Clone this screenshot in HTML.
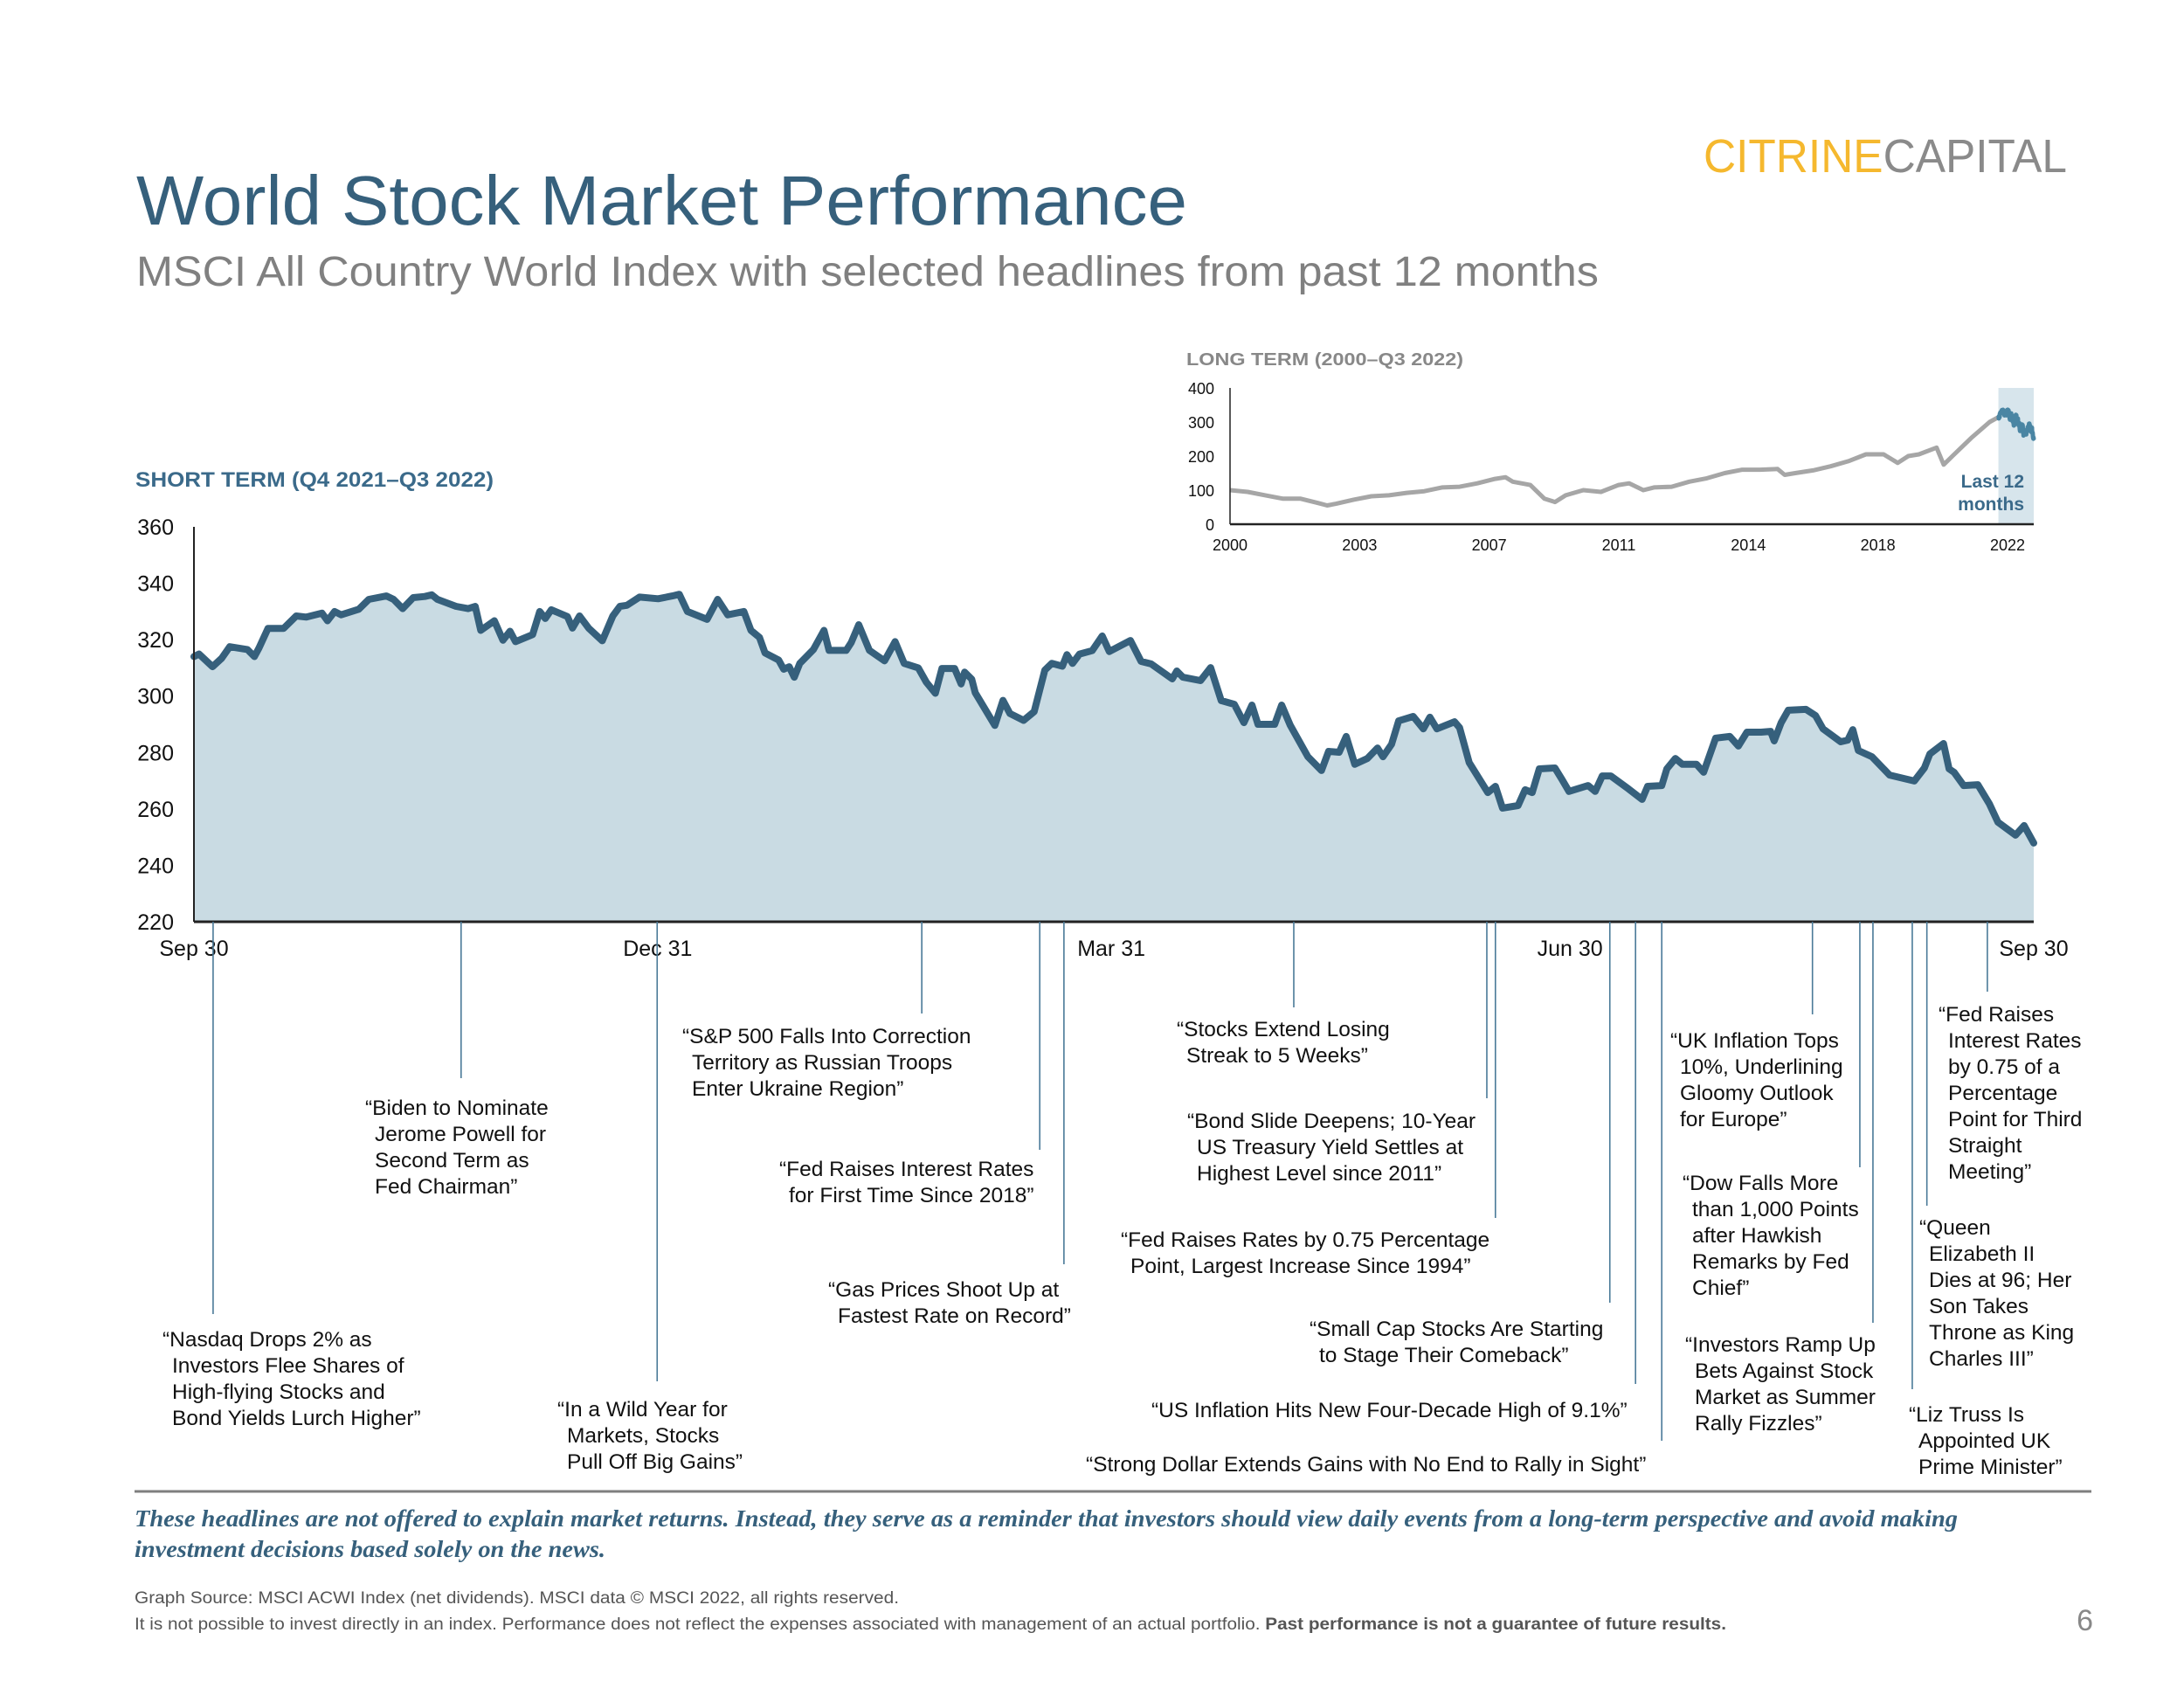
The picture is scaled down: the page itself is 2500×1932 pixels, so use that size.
<!DOCTYPE html>
<html><head><meta charset="utf-8"><style>
html,body{margin:0;padding:0;background:#fff;}
svg{display:block;font-family:"Liberation Sans",sans-serif;}
</style></head><body>
<svg id="page" width="2500" height="1932" viewBox="0 0 2500 1932" xmlns="http://www.w3.org/2000/svg">
<text x="1950" y="197" font-size="54" textLength="416" lengthAdjust="spacingAndGlyphs"><tspan fill="#f5b82e">CITRINE</tspan><tspan fill="#8a8a8a">CAPITAL</tspan></text>
<text x="156" y="257" font-size="80" fill="#36607c" textLength="1203" lengthAdjust="spacingAndGlyphs">World Stock Market Performance</text>
<text x="156" y="327" font-size="48" fill="#808080" textLength="1674" lengthAdjust="spacingAndGlyphs">MSCI All Country World Index with selected headlines from past 12 months</text>
<text x="155" y="557" font-size="24" font-weight="bold" fill="#3b6a8a" textLength="410" lengthAdjust="spacingAndGlyphs">SHORT TERM (Q4 2021–Q3 2022)</text>
<text x="1358" y="418" font-size="20" font-weight="bold" fill="#888" textLength="317" lengthAdjust="spacingAndGlyphs">LONG TERM (2000–Q3 2022)</text>
<g id="short"></g>
<g id="inset"></g>
<g id="notes"></g>
<line x1="154" y1="1707" x2="2394" y2="1707" stroke="#7f7f7f" stroke-width="3"/>
<g font-family="'Liberation Serif',serif" font-style="italic" font-weight="bold" fill="#36607c" font-size="27">
<text x="154" y="1747" textLength="2087" lengthAdjust="spacingAndGlyphs">These headlines are not offered to explain market returns. Instead, they serve as a reminder that investors should view daily events from a long-term perspective and avoid making</text>
<text x="154" y="1782" textLength="539" lengthAdjust="spacingAndGlyphs">investment decisions based solely on the news.</text>
</g>
<text x="154" y="1835" font-size="19" fill="#555" textLength="875" lengthAdjust="spacingAndGlyphs">Graph Source: MSCI ACWI Index (net dividends). MSCI data © MSCI 2022, all rights reserved.</text>
<text x="154" y="1865" font-size="19" fill="#555" textLength="1822" lengthAdjust="spacingAndGlyphs">It is not possible to invest directly in an index. Performance does not reflect the expenses associated with management of an actual portfolio. <tspan font-weight="bold">Past performance is not a guarantee of future results.</tspan></text>
<text x="2396" y="1866" font-size="34" fill="#888" text-anchor="end">6</text>
</svg>
<script>
const days=[0,1,3.7,5.5,7.1,10.6,12,12.9,14.7,17.8,20.3,22.3,25.4,26.5,27.9,29.2,32.7,34.7,38.2,39.6,41.4,43.5,45.8,47.2,48.3,52,54.4,55.8,56.9,59.6,61.3,62.7,63.8,67.2,68.6,69.7,70.9,74.1,75.1,76.5,78.3,81,83.1,84.5,85.9,88.4,92.1,94.9,96.3,97.9,101.8,103.9,105.9,109.1,110.5,112.2,113.3,116,117,118.1,119.1,120.2,122.9,125,126,129.4,130.4,131.9,134,137,139.1,140.9,143.7,145.3,147.1,148.4,150.9,152.2,152.9,154.3,155,158.9,160.5,161.9,164.6,166.7,168.8,170.2,172.3,173.2,174.3,175.7,178.2,180.2,181.6,185.8,187.9,189.9,194.1,195,196.2,199.7,201.7,203.8,206.4,208.3,209.9,211.1,214.4,215.8,217.5,221,223.7,225.1,227.2,228.6,230.3,232.8,234.8,235.9,237.6,239,241.9,243.9,245.2,246.6,250.1,251.1,253,256.7,258.2,259.6,262.7,264.1,265.5,266.9,270,271.4,272.8,276.6,278,279.4,281.1,284.6,287.3,288.4,291.2,292.2,293.9,295.3,298.1,299.5,301.9,304.7,306.4,308.1,310.9,312.8,313.5,314.9,316.3,319.8,321.7,323.2,326.7,328.1,329.1,330.2,332.9,336.4,341.3,343.3,344.4,347.1,348.2,349.2,351.1,353.9,356.2,357.9,361.4,363.1,365];
const values=[314,314.9,310.4,313.4,317.5,316.5,314,317,324,324,328.4,328,329.4,326.7,330,328.8,330.8,334.3,335.5,334.3,331,334.9,335.3,335.9,334.3,331.8,331,331.8,323.3,326.7,319.8,323,319.3,321.8,330,327.5,330.6,328.2,324.1,328.4,324.1,319.6,328.4,331.8,332.2,335.1,334.5,335.5,336.1,330,327.2,334.3,328.8,330,323.3,320.8,315.3,312.8,309.5,310.4,306.7,311.6,316.5,323.3,316.2,316.2,319,325.3,316.2,312.5,319.3,311.6,310,304.9,301,309.8,309.8,304.3,308.5,306,301.2,289.6,298.5,293.8,291.4,294.5,309.2,311.6,310.6,314.7,311.6,314.9,316.1,321.3,315.8,319.7,312.3,311.4,306.1,308.9,306.7,305.5,310.1,298.4,297.1,290.6,296.8,290,290,296.8,289.7,278.5,273.6,280.4,280.1,285.7,275.8,277.9,281.6,278.5,282.9,291.2,292.8,288.4,292.5,288.4,290.9,288.8,276.4,265.8,268,260.3,261.2,266.8,265.8,274.2,274.5,270.5,266.2,268.3,266.2,271.7,271.7,267.1,263.4,268,268.3,274.2,277.9,275.8,275.8,273,285.1,285.7,282.3,287.2,287.2,287.5,284.1,290.6,295,295.3,293.1,288.4,283.8,284.4,288.1,280.7,278.5,272,269.9,274.5,279.5,283.2,274.2,273,268.3,268.6,261.8,255.3,250.7,254.1,247.9];
const yTicks=[220,240,260,280,300,320,340,360];
const xTickDays=[0,92,182,273,365];
const xTickLabels=["Sep 30","Dec 31","Mar 31","Jun 30","Sep 30"];

const ltYears=[2000,2000.5,2001,2001.5,2002,2002.5,2002.75,2003,2003.5,2004,2004.5,2005,2005.5,2006,2006.5,2007,2007.5,2007.8,2008,2008.5,2008.9,2009.2,2009.5,2010,2010.5,2011,2011.3,2011.7,2012,2012.5,2013,2013.5,2014,2014.5,2015,2015.5,2015.7,2016,2016.5,2017,2017.5,2018,2018.5,2018.9,2019.2,2019.5,2020,2020.2,2020.5,2021,2021.5,2021.75];
const ltValues=[100,95,85,75,75,62,55,60,72,82,85,92,97,108,110,120,133,138,125,115,75,65,85,100,95,115,120,100,108,110,125,135,150,160,160,162,145,150,158,170,185,205,205,180,200,205,225,175,205,255,300,314];
const ltTicks=[0,100,200,300,400];
const ltYearLabels=["2000","2003","2007","2011","2014","2018","2022"];

const NS="http://www.w3.org/2000/svg";
function mk(tag,attrs,parent,txt){const e=document.createElementNS(NS,tag);for(const k in attrs)e.setAttribute(k,attrs[k]);if(txt!==undefined)e.textContent=txt;parent.appendChild(e);return e;}
const L=222,R=2328,T=603,B=1055;
const xs=d=>L+d/365*(R-L);
const ys=v=>B-(v-220)/140*(B-T);
const sg=document.getElementById('short');
let pts=days.map((d,i)=>xs(d).toFixed(1)+','+ys(values[i]).toFixed(1));
let area=mk('path',{d:'M'+xs(days[0])+','+B+' L'+pts.join(' L')+' L'+xs(days[days.length-1])+','+B+' Z',fill:'#c9dbe3'},sg);


let line=mk('polyline',{points:pts.join(' '),fill:'none',stroke:'#36607c','stroke-width':8,'stroke-linejoin':'round','stroke-linecap':'round'},sg);


let ya=mk('line',{x1:L,y1:T,x2:L,y2:B,stroke:'#222','stroke-width':2},sg);


let xa=mk('line',{x1:L,y1:B,x2:R,y2:B,stroke:'#222','stroke-width':3},sg);


yTicks.forEach(v=>{const t=mk('text',{x:199,y:ys(v)+9,'font-size':25,'text-anchor':'end',fill:'#111'},sg,String(v));

});
xTickDays.forEach((d,i)=>{const t=mk('text',{x:xs(d),y:1094,'font-size':25,'text-anchor':'middle',fill:'#111'},sg,xTickLabels[i]);

});

// inset
const IL=1408,IR=2328,IT=444,IB=600;
const ix=y=>IL+(y-2000)/22.75*(IR-IL);
const iy=v=>IB-v/400*(IB-IT);
const ig=document.getElementById('inset');
let band=mk('rect',{x:ix(2021.75),y:IT,width:IR-ix(2021.75),height:IB-IT,fill:'#d7e5ec'},ig);


let gl=mk('polyline',{points:ltYears.map((y,i)=>ix(y).toFixed(1)+','+iy(ltValues[i]).toFixed(1)).join(' '),fill:'none',stroke:'#a6a6a6','stroke-width':5,'stroke-linejoin':'round'},ig);


let bl=mk('polyline',{points:days.map((d,i)=>ix(2021.75+d/365).toFixed(1)+','+iy(values[i]).toFixed(1)).join(' '),fill:'none',stroke:'#4a85a3','stroke-width':5,'stroke-linejoin':'round'},ig);


let iya=mk('line',{x1:IL,y1:IT,x2:IL,y2:IB,stroke:'#222','stroke-width':1.5},ig);


let ixa=mk('line',{x1:IL,y1:IB,x2:IR,y2:IB,stroke:'#222','stroke-width':2.5},ig);


ltTicks.forEach(v=>{const t=mk('text',{x:1390,y:iy(v)+7,'font-size':18,'text-anchor':'end',fill:'#111'},ig,String(v));

});
ltYearLabels.forEach((s,i)=>{const t=mk('text',{x:IL+i*(IR-IL-30)/(ltYearLabels.length-1),y:630,'font-size':18,'text-anchor':'middle',fill:'#111'},ig,s);

});
let l1=mk('text',{x:2317,y:558,'font-size':21,'font-weight':'bold','text-anchor':'end',fill:'#3b6a8a'},ig,'Last 12');


let l2=mk('text',{x:2317,y:584,'font-size':21,'font-weight':'bold','text-anchor':'end',fill:'#3b6a8a'},ig,'months');



// annotations: [day of line, line end y, text x, first line center y, lines]
const notes=[
[3.8,1504,186,1532,["“Nasdaq Drops 2% as","Investors Flee Shares of","High-flying Stocks and","Bond Yields Lurch Higher”"]],
[53,1234,418,1267,["“Biden to Nominate","Jerome Powell for","Second Term as","Fed Chairman”"]],
[91.9,1581,638,1612,["“In a Wild Year for","Markets, Stocks","Pull Off Big Gains”"]],
[144.4,1160,781,1185,["“S&P 500 Falls Into Correction","Territory as Russian Troops","Enter Ukraine Region”"]],
[167.8,1316,892,1337,["“Fed Raises Interest Rates","for First Time Since 2018”"]],
[172.6,1447,948,1475,["“Gas Prices Shoot Up at","Fastest Rate on Record”"]],
[218.2,1153,1347,1177,["“Stocks Extend Losing","Streak to 5 Weeks”"]],
[256.5,1257,1359,1282,["“Bond Slide Deepens; 10-Year","US Treasury Yield Settles at","Highest Level since 2011”"]],
[258.2,1394,1283,1418,["“Fed Raises Rates by 0.75 Percentage","Point, Largest Increase Since 1994”"]],
[280.9,1491,1499,1520,["“Small Cap Stocks Are Starting","to Stage Their Comeback”"]],
[286,1584,1318,1613,["“US Inflation Hits New Four-Decade High of 9.1%”"]],
[291.2,1649,1243,1675,["“Strong Dollar Extends Gains with No End to Rally in Sight”"]],
[321.1,1161,1912,1190,["“UK Inflation Tops","10%, Underlining","Gloomy Outlook","for Europe”"]],
[330.5,1336,1926,1353,["“Dow Falls More","than 1,000 Points","after Hawkish","Remarks by Fed","Chief”"]],
[333.1,1514,1929,1538,["“Investors Ramp Up","Bets Against Stock","Market as Summer","Rally Fizzles”"]],
[340.9,1590,2185,1618,["“Liz Truss Is","Appointed UK","Prime Minister”"]],
[343.8,1380,2197,1404,["“Queen","Elizabeth II","Dies at 96; Her","Son Takes","Throne as King","Charles III”"]],
[355.8,1135,2219,1160,["“Fed Raises","Interest Rates","by 0.75 of a","Percentage","Point for Third","Straight","Meeting”"]]
];
const ng=document.getElementById('notes');
notes.forEach(n=>{
 const ln=mk('line',{x1:xs(n[0]),y1:B,x2:xs(n[0]),y2:n[1],stroke:'#4a7a98','stroke-width':1.6},ng);
 
 
 const t=mk('text',{'font-size':24.5,fill:'#111'},ng);
 
 
 n[4].forEach((s,i)=>{mk('tspan',{x:n[2]+(i?11:0),y:n[3]+9+i*30},t,s);});
});
</script>
</body></html>
